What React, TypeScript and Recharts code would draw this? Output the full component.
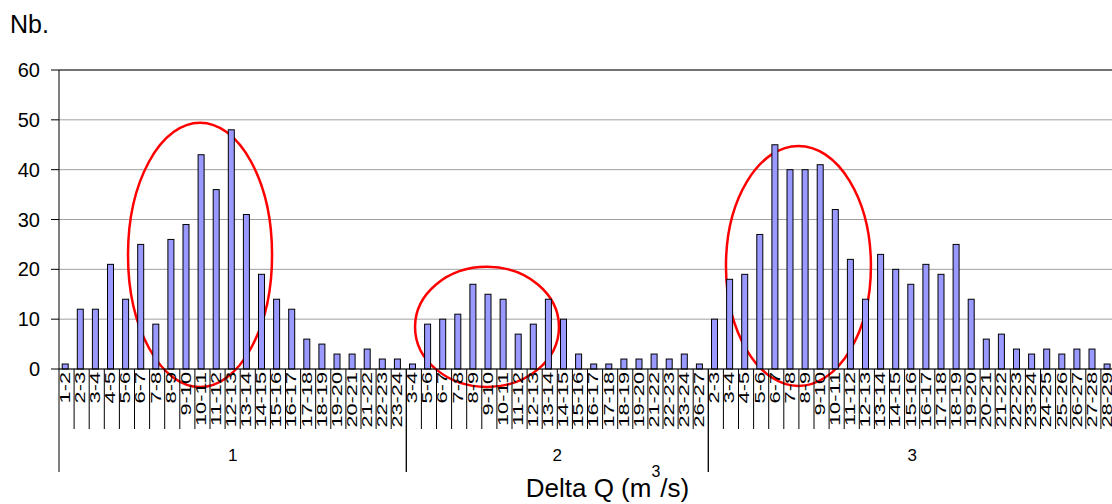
import React from 'react';
import {
  ComposedChart,
  Bar,
  XAxis,
  YAxis,
  CartesianGrid,
  ReferenceArea,
  ReferenceLine,
  Label,
} from 'recharts';

// ---------- data ----------
const groupNames = ['1', '2', '3'];

const group1Labels = [
  '1-2', '2-3', '3-4', '4-5', '5-6', '6-7', '7-8', '8-9', '9-10', '10-11', '11-12', '12-13',
  '13-14', '14-15', '15-16', '16-17', '17-18', '18-19', '19-20', '20-21', '21-22', '22-23', '23-24',
];
const group1Values = [1, 12, 12, 21, 14, 25, 9, 26, 29, 43, 36, 48, 31, 19, 14, 12, 6, 5, 3, 3, 4, 2, 2];

const group2Labels = [
  '3-4', '5-6', '6-7', '7-8', '8-9', '9-10', '10-11', '11-12', '12-13', '13-14', '14-15', '15-16',
  '16-17', '17-18', '18-19', '19-20', '21-22', '22-23', '23-24', '26-27',
];
const group2Values = [1, 9, 10, 11, 17, 15, 14, 7, 9, 14, 10, 3, 1, 1, 2, 2, 3, 2, 3, 1];

const group3Labels = [
  '2-3', '3-4', '4-5', '5-6', '6-7', '7-8', '8-9', '9-10', '10-11', '11-12', '12-13', '13-14',
  '14-15', '15-16', '16-17', '17-18', '18-19', '19-20', '20-21', '21-22', '22-23', '23-24',
  '24-25', '25-26', '26-27', '27-28', '28-29',
];
const group3Values = [10, 18, 19, 27, 45, 40, 40, 41, 32, 22, 14, 23, 20, 17, 21, 19, 25, 14, 6, 7, 4, 3, 4, 3, 4, 4, 1];

const yTicks = [0, 10, 20, 30, 40, 50, 60];

// highlighted zones (category-position units on x, value units on y)
const highlight1 = { x1: 4.57, x2: 14.11, y1: -3.6, y2: 49.4 };
const highlight2 = { x1: 23.58, x2: 33.11, y1: -3.6, y2: 20.5 };
const highlight3 = { x1: 44.17, x2: 53.77, y1: -3.4, y2: 44.75 };
const highlights = [highlight1, highlight2, highlight3];

// ---------- build table ----------
const groupLabels = [group1Labels, group2Labels, group3Labels];
const groupValues = [group1Values, group2Values, group3Values];

type Row = {
  key: string;
  label: string;
  value: number;
  pos: number;
  group: string;
  inGroup: number;
  groupSize: number;
};

const rows: Row[] = [];
groupLabels.forEach((labels, g) => {
  labels.forEach((label, j) => {
    rows.push({
      key: `${groupNames[g]}|${label}`,
      label,
      value: groupValues[g][j],
      pos: rows.length + 0.5,
      group: groupNames[g],
      inGroup: j,
      groupSize: labels.length,
    });
  });
});
const rowByKey: Record<string, Row> = {};
rows.forEach((r) => (rowByKey[r.key] = r));

// ---------- layout ----------
const FONT = 'Liberation Sans, Arial, Helvetica, sans-serif';
const CHART_W = 1116;
const CHART_H = 504;
const Y_AXIS_W = 59;
const TOP = 70;
const X_AXIS_H = 135;
const BAND = (CHART_W - Y_AXIS_W) / rows.length;
const BAR_SHIFT = -1.8;

const CategoryTick = (props: any) => {
  const { x, y, payload } = props;
  const row = rowByKey[payload.value];
  if (!row) return null;
  const left = x - BAND / 2;
  const isFirst = row.inGroup === 0;
  const isLast = row.inGroup === row.groupSize - 1;
  const mid = Math.floor(row.groupSize / 2);
  const showGroup = row.inGroup === mid;
  const groupX = x + (row.groupSize / 2 - mid - 0.5) * BAND;
  return (
    <g>
      <line x1={left} y1={y} x2={left} y2={y + (isFirst ? 103 : 60)} stroke="#000" strokeWidth={1} />
      {isLast && (
        <line x1={left + BAND} y1={y} x2={left + BAND} y2={y + 103} stroke="#000" strokeWidth={1} />
      )}
      <text
        transform={`translate(${x - 2},${y + 3}) rotate(-90) scale(1.45,1)`}
        textAnchor="end"
        dy="0.36em"
        fontSize={15}
        fontFamily={FONT}
        fill="#000"
      >
        {row.label}
      </text>
      {showGroup && (
        <text x={groupX} y={y + 92} textAnchor="middle" fontSize={17} fontFamily={FONT} fill="#000">
          {row.group}
        </text>
      )}
    </g>
  );
};

const XTitle = (props: any) => {
  const vb = props.viewBox || { x: Y_AXIS_W, y: CHART_H - X_AXIS_H, width: CHART_W - Y_AXIS_W, height: X_AXIS_H };
  const cx = vb.x + vb.width / 2 + 20;
  return (
    <text x={cx} y={vb.y + 128} textAnchor="middle" fontSize={26} fontFamily={FONT} fill="#000">
      {'Delta Q (m'}<tspan dy={-20} fontSize={16}>3</tspan><tspan dy={20}>/s)</tspan>
    </text>
  );
};

const YTitle = (props: any) => {
  const vb = props.viewBox || { x: 0, y: TOP };
  return (
    <text x={vb.x + 10} y={vb.y - 37} fontSize={25} fontFamily={FONT} fill="#000">
      Nb.
    </text>
  );
};

const BarShape = (p: any) => (
  <rect
    x={p.x + BAR_SHIFT}
    y={p.y}
    width={p.width}
    height={p.height}
    fill="#9999FF"
    stroke="#000"
    strokeWidth={1}
  />
);

const EllipseShape = (p: any) => (
  <ellipse
    cx={p.x + p.width / 2}
    cy={p.y + p.height / 2}
    rx={Math.abs(p.width) / 2}
    ry={Math.abs(p.height) / 2}
    fill="none"
    stroke="#FF0000"
    strokeWidth={2.5}
  />
);

export default function App() {
  return (
    <div
      style={{
        position: 'absolute',
        left: 0,
        top: 0,
        width: 1112,
        height: 504,
        overflow: 'hidden',
        background: '#fff',
      }}
    >
      <ComposedChart
        width={CHART_W}
        height={CHART_H}
        data={rows}
        margin={{ top: TOP, right: 0, bottom: 0, left: 0 }}
        barCategoryGap={0}
      >
        <CartesianGrid vertical={false} stroke="#a0a0a0" strokeWidth={1} />
        <ReferenceLine y={60} stroke="#555" strokeWidth={1.3} />
        <XAxis
          dataKey="key"
          type="category"
          interval={0}
          tickLine={false}
          tickSize={0}
          tickMargin={0}
          axisLine={{ stroke: '#000', strokeWidth: 1 }}
          height={X_AXIS_H}
          tick={<CategoryTick />}
        >
          <Label content={<XTitle />} />
        </XAxis>
        <XAxis xAxisId="pos" dataKey="pos" type="number" domain={[0, rows.length]} allowDataOverflow hide />
        <YAxis
          width={Y_AXIS_W}
          domain={[0, 60]}
          ticks={yTicks}
          interval={0}
          tickSize={8}
          tickMargin={11}
          axisLine={{ stroke: '#000', strokeWidth: 1 }}
          tickLine={{ stroke: '#000', strokeWidth: 1 }}
          tick={{ fill: '#000', fontSize: 20, fontFamily: FONT }}
        >
          <Label content={<YTitle />} />
        </YAxis>
        <Bar dataKey="value" barSize={6} isAnimationActive={false} shape={<BarShape />} />
        {highlights.map((h, i) => (
          <ReferenceArea
            key={i}
            xAxisId="pos"
            x1={h.x1}
            x2={h.x2}
            y1={h.y1}
            y2={h.y2}
            ifOverflow="visible"
            fill="none"
            shape={<EllipseShape />}
          />
        ))}
      </ComposedChart>
    </div>
  );
}
